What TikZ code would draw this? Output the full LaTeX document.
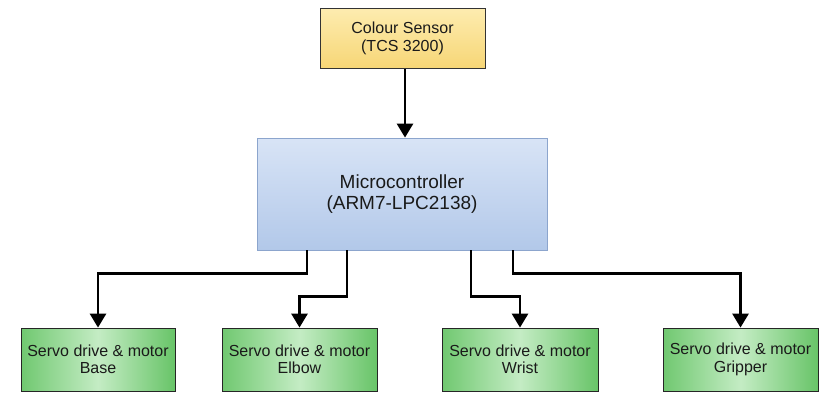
\documentclass[tikz,border=0pt]{standalone}
\usepackage{fontspec}
\setmainfont{Liberation Sans}
\usetikzlibrary{arrows.meta}
\definecolor{txt}{HTML}{1A1A1A}
\begin{document}
\begin{tikzpicture}[x=1pt,y=-1pt,
  box/.style={rectangle, inner sep=0pt, align=center, text=txt},
  sensorbox/.style={box, draw=black!80, line width=0.8pt, top color={rgb,255:red,253;green,236;blue,175}, bottom color={rgb,255:red,247;green,214;blue,118},
     minimum width=165pt, minimum height=60pt, font=\fontsize{16}{18}\selectfont},
  mcubox/.style={box, draw={rgb,255:red,140;green,165;blue,205}, line width=0.8pt,
     top color={rgb,255:red,216;green,228;blue,246}, bottom color={rgb,255:red,178;green,200;blue,233},
     minimum width=290pt, minimum height=112pt, font=\fontsize{19}{21}\selectfont},
  servobox/.style={box, draw=black!85, line width=0.8pt,
     left color={rgb,255:red,112;green,200;blue,112}, right color={rgb,255:red,104;green,196;blue,104}, middle color={rgb,255:red,196;green,236;blue,196},
     minimum width=155pt, minimum height=63pt, font=\fontsize{16}{17.5}\selectfont},
  conn/.style={line width=2.8pt, black, -{Triangle[width=16pt,length=14pt]}}]
\useasboundingbox (0,0) rectangle (837,412);
\fill[white] (0,0) rectangle (837,412);
\node[sensorbox] (sensor) at (402.5,38.5) {Colour Sensor\\(TCS 3200)};
\node[mcubox] (mcu) at (402,194) {Microcontroller\\(ARM7-LPC2138)};
\node[servobox, minimum width=154pt] (base) at (98,359.5) {Servo drive \& motor\\Base};
\node[servobox] (elbow) at (299.5,359.5) {Servo drive \& motor\\Elbow};
\node[servobox, minimum width=156pt] (wrist) at (520,359.5) {Servo drive \& motor\\Wrist};
\node[servobox] (gripper) at (740.5,359.5) {Servo drive \& motor\\Gripper};
\draw[conn] ([xshift=2.5pt]sensor.south) -- ([xshift=3pt]mcu.north);
\draw[conn] ([xshift=-95pt]mcu.south) -- ++(0,23) -| (base.north);
\draw[conn] ([xshift=-55pt]mcu.south) -- ++(0,46) -| (elbow.north);
\draw[conn] ([xshift=69pt]mcu.south) -- ++(0,46) -| (wrist.north);
\draw[conn] ([xshift=111pt]mcu.south) -- ++(0,23) -| (gripper.north);
\end{tikzpicture}
\end{document}
